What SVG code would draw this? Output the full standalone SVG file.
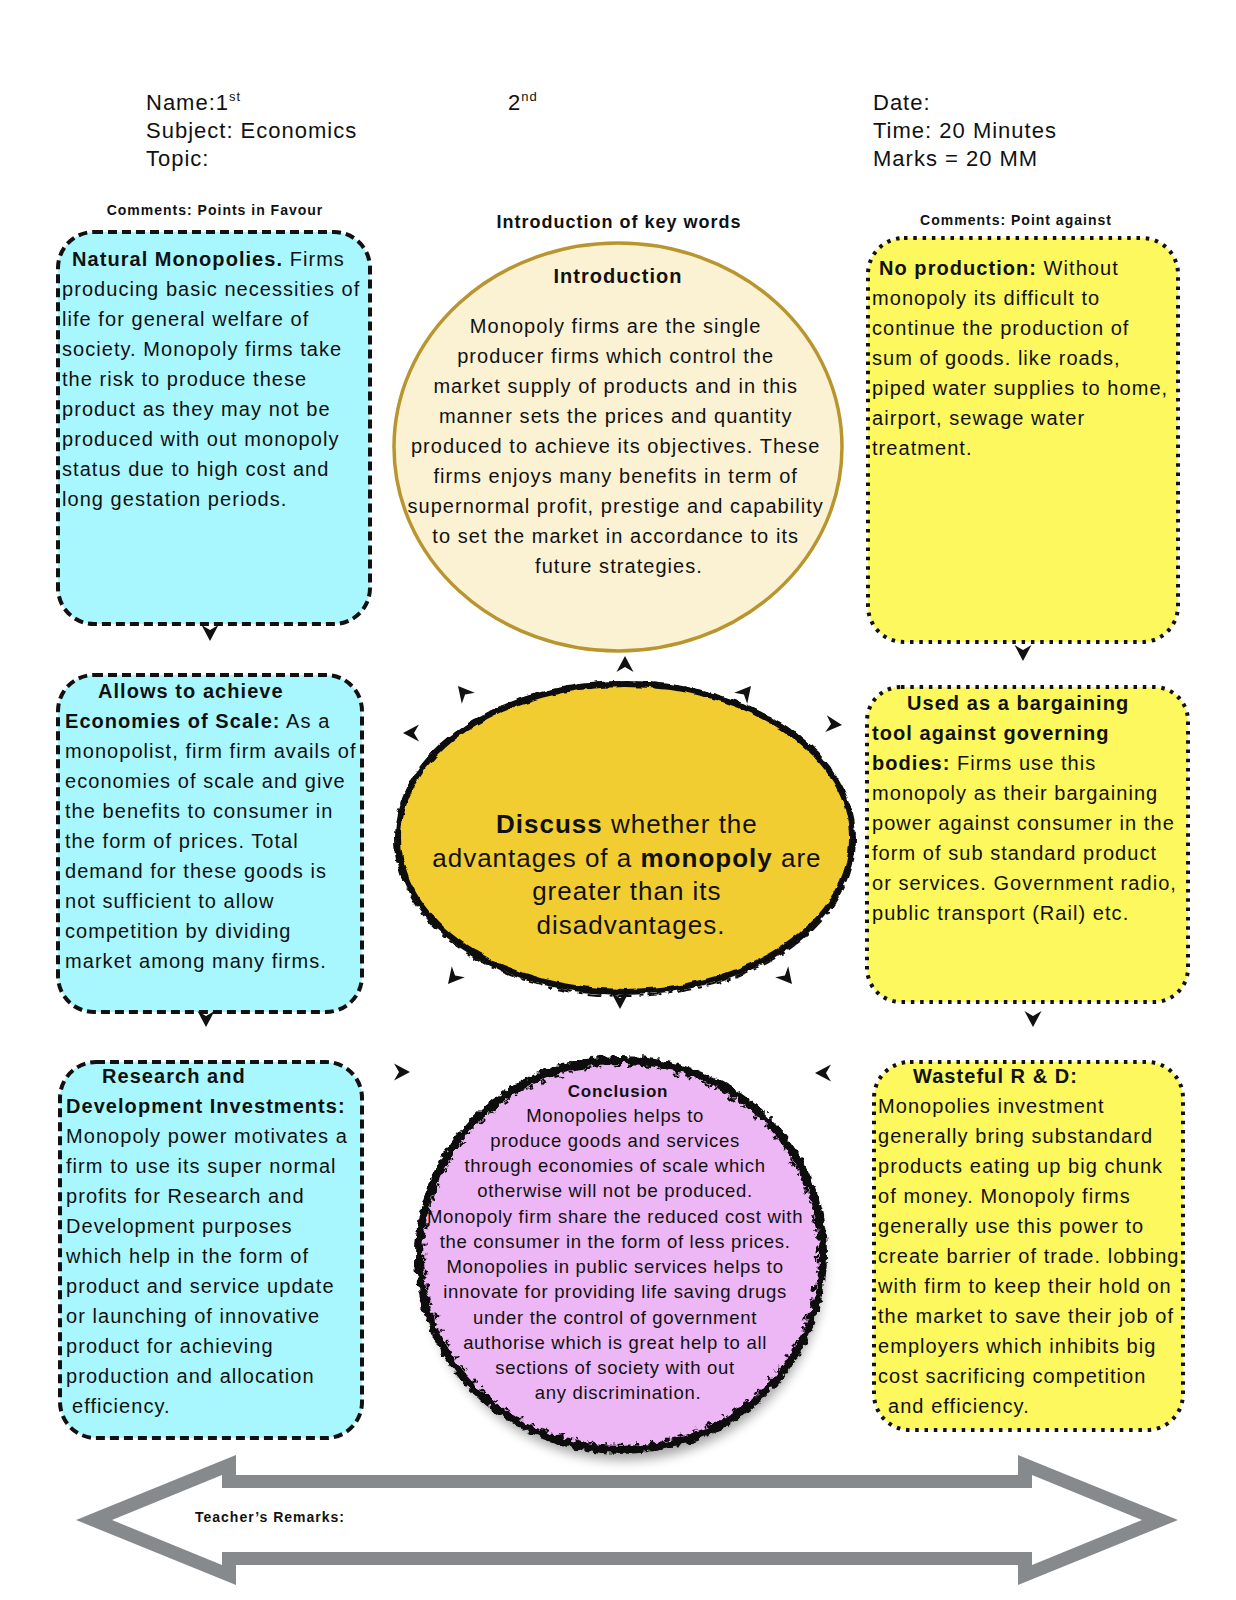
<svg xmlns="http://www.w3.org/2000/svg" width="1236" height="1600" viewBox="0 0 1236 1600">
<style>
text { font-family: "Liberation Sans", Arial, Helvetica, sans-serif; fill: #111; }
.hd { font-size: 22px; letter-spacing: 1px; }
.lbl { font-size: 14px; font-weight: bold; letter-spacing: 1px; }
.kw { font-size: 18px; font-weight: bold; letter-spacing: 1px; }
.body { font-size: 20px; letter-spacing: 1.05px; }
.b { font-weight: bold; }
.cyan { fill: #A9F7FE; stroke: #111; stroke-width: 4; stroke-dasharray: 9 5; }
.yel { fill: #FCF85E; stroke: #111; stroke-width: 4; stroke-dasharray: 3.5 5.8; }
.mid { text-anchor: middle; }
</style>
<defs>
  <path id="ah" d="M0,0 L-16,-8.5 L-11,0 L-16,8.5 Z" fill="#111"/>
  <filter id="rough" x="-10%" y="-10%" width="120%" height="120%">
    <feTurbulence type="fractalNoise" baseFrequency="0.09" numOctaves="2" seed="3" result="n"/>
    <feDisplacementMap in="SourceGraphic" in2="n" scale="5" xChannelSelector="R" yChannelSelector="G"/>
  </filter>
  <filter id="rough2" x="-10%" y="-10%" width="120%" height="120%">
    <feTurbulence type="fractalNoise" baseFrequency="0.15" numOctaves="2" seed="7" result="n"/>
    <feDisplacementMap in="SourceGraphic" in2="n" scale="9" xChannelSelector="R" yChannelSelector="G"/>
  </filter>
  <filter id="shadow" x="-20%" y="-20%" width="140%" height="140%">
    <feGaussianBlur stdDeviation="6"/>
  </filter>
</defs>

<g id="header">
  <text class="hd" x="146" y="110">Name:1<tspan font-size="13" dy="-9">st</tspan></text>
  <text class="hd" x="146" y="138">Subject: Economics</text>
  <text class="hd" x="146" y="166">Topic:</text>
  <text class="hd" x="508" y="110">2<tspan font-size="13" dy="-9">nd</tspan></text>
  <text class="hd" x="873" y="110">Date:</text>
  <text class="hd" x="873" y="138">Time: 20 Minutes</text>
  <text class="hd" x="873" y="166">Marks = 20 MM</text>
  <text class="lbl mid" x="215" y="215">Comments: Points in Favour</text>
  <text class="kw mid" x="619" y="228">Introduction of key words</text>
  <text class="lbl mid" x="1016" y="225">Comments: Point against</text>
</g>

<g id="favour1">
  <rect class="cyan" x="58" y="232" width="312" height="392" rx="36"/>
  <text class="body">
    <tspan x="72" y="266"><tspan class="b">Natural Monopolies.</tspan> Firms</tspan>
    <tspan x="62" y="296">producing basic necessities of</tspan>
    <tspan x="62" y="326">life for general welfare of</tspan>
    <tspan x="62" y="356">society. Monopoly firms take</tspan>
    <tspan x="62" y="386">the risk to produce these</tspan>
    <tspan x="62" y="416">product as they may not be</tspan>
    <tspan x="62" y="446">produced with out monopoly</tspan>
    <tspan x="62" y="476">status due to high cost and</tspan>
    <tspan x="62" y="506">long gestation periods.</tspan>
  </text>
</g>

<g id="intro">
  <ellipse cx="618" cy="447" rx="224" ry="204" fill="#FBF2D4" stroke="#B9952F" stroke-width="3.5"/>
  <text class="body b mid" x="618" y="283">Introduction</text>
  <text class="body mid">
    <tspan x="619" y="333">Monopoly firms are the single</tspan>
    <tspan x="619" y="363">producer firms which control the</tspan>
    <tspan x="619" y="393">market supply of products and in this</tspan>
    <tspan x="619" y="423">manner sets the prices and quantity</tspan>
    <tspan x="619" y="453">produced to achieve its objectives. These</tspan>
    <tspan x="619" y="483">firms enjoys many benefits in term of</tspan>
    <tspan x="619" y="513">supernormal profit, prestige and capability</tspan>
    <tspan x="619" y="543">to set the market in accordance to its</tspan>
    <tspan x="619" y="573">future strategies.</tspan>
  </text>
</g>

<g id="against1">
  <rect class="yel" x="868" y="238" width="310" height="404" rx="36"/>
  <text class="body">
    <tspan x="879" y="275"><tspan class="b">No production:</tspan> Without</tspan>
    <tspan x="872" y="305">monopoly its difficult to</tspan>
    <tspan x="872" y="335">continue the production of</tspan>
    <tspan x="872" y="365">sum of goods. like roads,</tspan>
    <tspan x="872" y="395">piped water supplies to home,</tspan>
    <tspan x="872" y="425">airport, sewage water</tspan>
    <tspan x="872" y="455">treatment.</tspan>
  </text>
</g>

<g id="favour2">
  <rect class="cyan" x="58" y="675" width="304" height="337" rx="36"/>
  <text class="body">
    <tspan class="b" x="98" y="698">Allows to achieve</tspan>
    <tspan x="65" y="728"><tspan class="b">Economies of Scale:</tspan> As a</tspan>
    <tspan x="65" y="758">monopolist, firm firm avails of</tspan>
    <tspan x="65" y="788">economies of scale and give</tspan>
    <tspan x="65" y="818">the benefits to consumer in</tspan>
    <tspan x="65" y="848">the form of prices. Total</tspan>
    <tspan x="65" y="878">demand for these goods is</tspan>
    <tspan x="65" y="908">not sufficient to allow</tspan>
    <tspan x="65" y="938">competition by dividing</tspan>
    <tspan x="65" y="968">market among many firms.</tspan>
  </text>
</g>

<g id="topic">
  <ellipse cx="625" cy="838" rx="228" ry="155" fill="#F2CD32"/>
  <g filter="url(#rough)" fill="none" stroke="#111">
    <ellipse cx="625" cy="838" rx="227" ry="154" stroke-width="6"/>
    <ellipse cx="625" cy="839" rx="230" ry="157" stroke-width="2" stroke-dasharray="14 5 4 7"/>
  </g>
  <text class="mid" font-size="26" letter-spacing="1">
    <tspan x="631" y="833"><tspan class="b">Discuss</tspan> whether the</tspan>
    <tspan x="631" y="867">advantages of a <tspan class="b">monopoly</tspan> are</tspan>
    <tspan x="631" y="900">greater than its</tspan>
    <tspan x="631" y="934">disadvantages.</tspan>
  </text>
</g>

<g id="against2">
  <rect class="yel" x="867" y="687" width="321" height="315" rx="34"/>
  <text class="body">
    <tspan class="b" x="907" y="710">Used as a bargaining</tspan>
    <tspan class="b" x="872" y="740">tool against governing</tspan>
    <tspan x="872" y="770"><tspan class="b">bodies:</tspan> Firms use this</tspan>
    <tspan x="872" y="800">monopoly as their bargaining</tspan>
    <tspan x="872" y="830">power against consumer in the</tspan>
    <tspan x="872" y="860">form of sub standard product</tspan>
    <tspan x="872" y="890">or services. Government radio,</tspan>
    <tspan x="872" y="920">public transport (Rail) etc.</tspan>
  </text>
</g>

<g id="favour3">
  <rect class="cyan" x="60" y="1062" width="302" height="376" rx="36"/>
  <text class="body">
    <tspan class="b" x="102" y="1083">Research and</tspan>
    <tspan class="b" x="66" y="1113">Development Investments:</tspan>
    <tspan x="66" y="1143">Monopoly power motivates a</tspan>
    <tspan x="66" y="1173">firm to use its super normal</tspan>
    <tspan x="66" y="1203">profits for Research and</tspan>
    <tspan x="66" y="1233">Development purposes</tspan>
    <tspan x="66" y="1263">which help in the form of</tspan>
    <tspan x="66" y="1293">product and service update</tspan>
    <tspan x="66" y="1323">or launching of innovative</tspan>
    <tspan x="66" y="1353">product for achieving</tspan>
    <tspan x="66" y="1383">production and allocation</tspan>
    <tspan x="72" y="1413">efficiency.</tspan>
  </text>
</g>

<g id="conclusion">
  <ellipse cx="624" cy="1266" rx="200" ry="194" fill="#000" opacity="0.35" filter="url(#shadow)"/>
  <ellipse cx="621" cy="1255" rx="203" ry="196" fill="#EDB6F4"/>
  <g filter="url(#rough2)" fill="none" stroke="#111">
    <ellipse cx="621" cy="1255" rx="202" ry="195" stroke-width="8"/>
    <ellipse cx="621" cy="1255" rx="196" ry="189" stroke-width="2.5" stroke-dasharray="6 9 3 12"/>
  </g>
  <text class="b mid" x="618" y="1097" font-size="17" letter-spacing="0.8">Conclusion</text>
  <text class="mid" font-size="18.5" letter-spacing="0.7">
    <tspan x="618" y="1122">Monopolies helps to</tspan>
    <tspan x="618" y="1147">produce goods and services</tspan>
    <tspan x="618" y="1172">through economies of scale which</tspan>
    <tspan x="618" y="1197">otherwise will not be produced.</tspan>
    <tspan x="618" y="1223">Monopoly firm share the reduced cost with</tspan>
    <tspan x="618" y="1248">the consumer in the form of less prices.</tspan>
    <tspan x="618" y="1273">Monopolies in public services helps to</tspan>
    <tspan x="618" y="1298">innovate for providing life saving drugs</tspan>
    <tspan x="618" y="1324">under the control of government</tspan>
    <tspan x="618" y="1349">authorise which is great help to all</tspan>
    <tspan x="618" y="1374">sections of society with out</tspan>
    <tspan x="618" y="1399">any discrimination.</tspan>
  </text>
</g>

<g id="against3">
  <rect class="yel" x="874" y="1062" width="309" height="368" rx="36"/>
  <text class="body">
    <tspan class="b" x="913" y="1083">Wasteful R &amp; D:</tspan>
    <tspan x="878" y="1113">Monopolies investment</tspan>
    <tspan x="878" y="1143">generally bring substandard</tspan>
    <tspan x="878" y="1173">products eating up big chunk</tspan>
    <tspan x="878" y="1203">of money. Monopoly firms</tspan>
    <tspan x="878" y="1233">generally use this power to</tspan>
    <tspan x="878" y="1263">create barrier of trade. lobbing</tspan>
    <tspan x="878" y="1293">with firm to keep their hold on</tspan>
    <tspan x="878" y="1323">the market to save their job of</tspan>
    <tspan x="878" y="1353">employers which inhibits big</tspan>
    <tspan x="878" y="1383">cost sacrificing competition</tspan>
    <tspan x="888" y="1413">and efficiency.</tspan>
  </text>
</g>

<g id="remarks">
  <path fill="#878A8D" fill-rule="evenodd" d="M76,1520 L236,1455 L236,1475 L1018,1475 L1018,1455 L1178,1520 L1018,1585 L1018,1565 L236,1565 L236,1585 Z M112,1520 L222,1565 L222,1552 L1032,1552 L1032,1565 L1142,1520 L1032,1475 L1032,1488 L222,1488 L222,1475 Z"/>
  <text class="lbl" x="195" y="1522">Teacher’s Remarks:</text>
</g>

<g id="connectors">
  <use href="#ah" transform="translate(210,641) rotate(90)"/>
  <use href="#ah" transform="translate(1023,661) rotate(90)"/>
  <use href="#ah" transform="translate(625,656) rotate(-90)"/>
  <use href="#ah" transform="translate(458,686) rotate(-130)"/>
  <use href="#ah" transform="translate(403,733) rotate(180)"/>
  <use href="#ah" transform="translate(751,686) rotate(-50)"/>
  <use href="#ah" transform="translate(842,725) rotate(5)"/>
  <use href="#ah" transform="translate(448,984) rotate(130)"/>
  <use href="#ah" transform="translate(792,984) rotate(50)"/>
  <use href="#ah" transform="translate(620,1009) rotate(90)"/>
  <use href="#ah" transform="translate(206,1027) rotate(90)"/>
  <use href="#ah" transform="translate(1033,1027) rotate(90)"/>
  <use href="#ah" transform="translate(410,1072) rotate(0)"/>
  <use href="#ah" transform="translate(815,1073) rotate(180)"/>
</g>
</svg>
